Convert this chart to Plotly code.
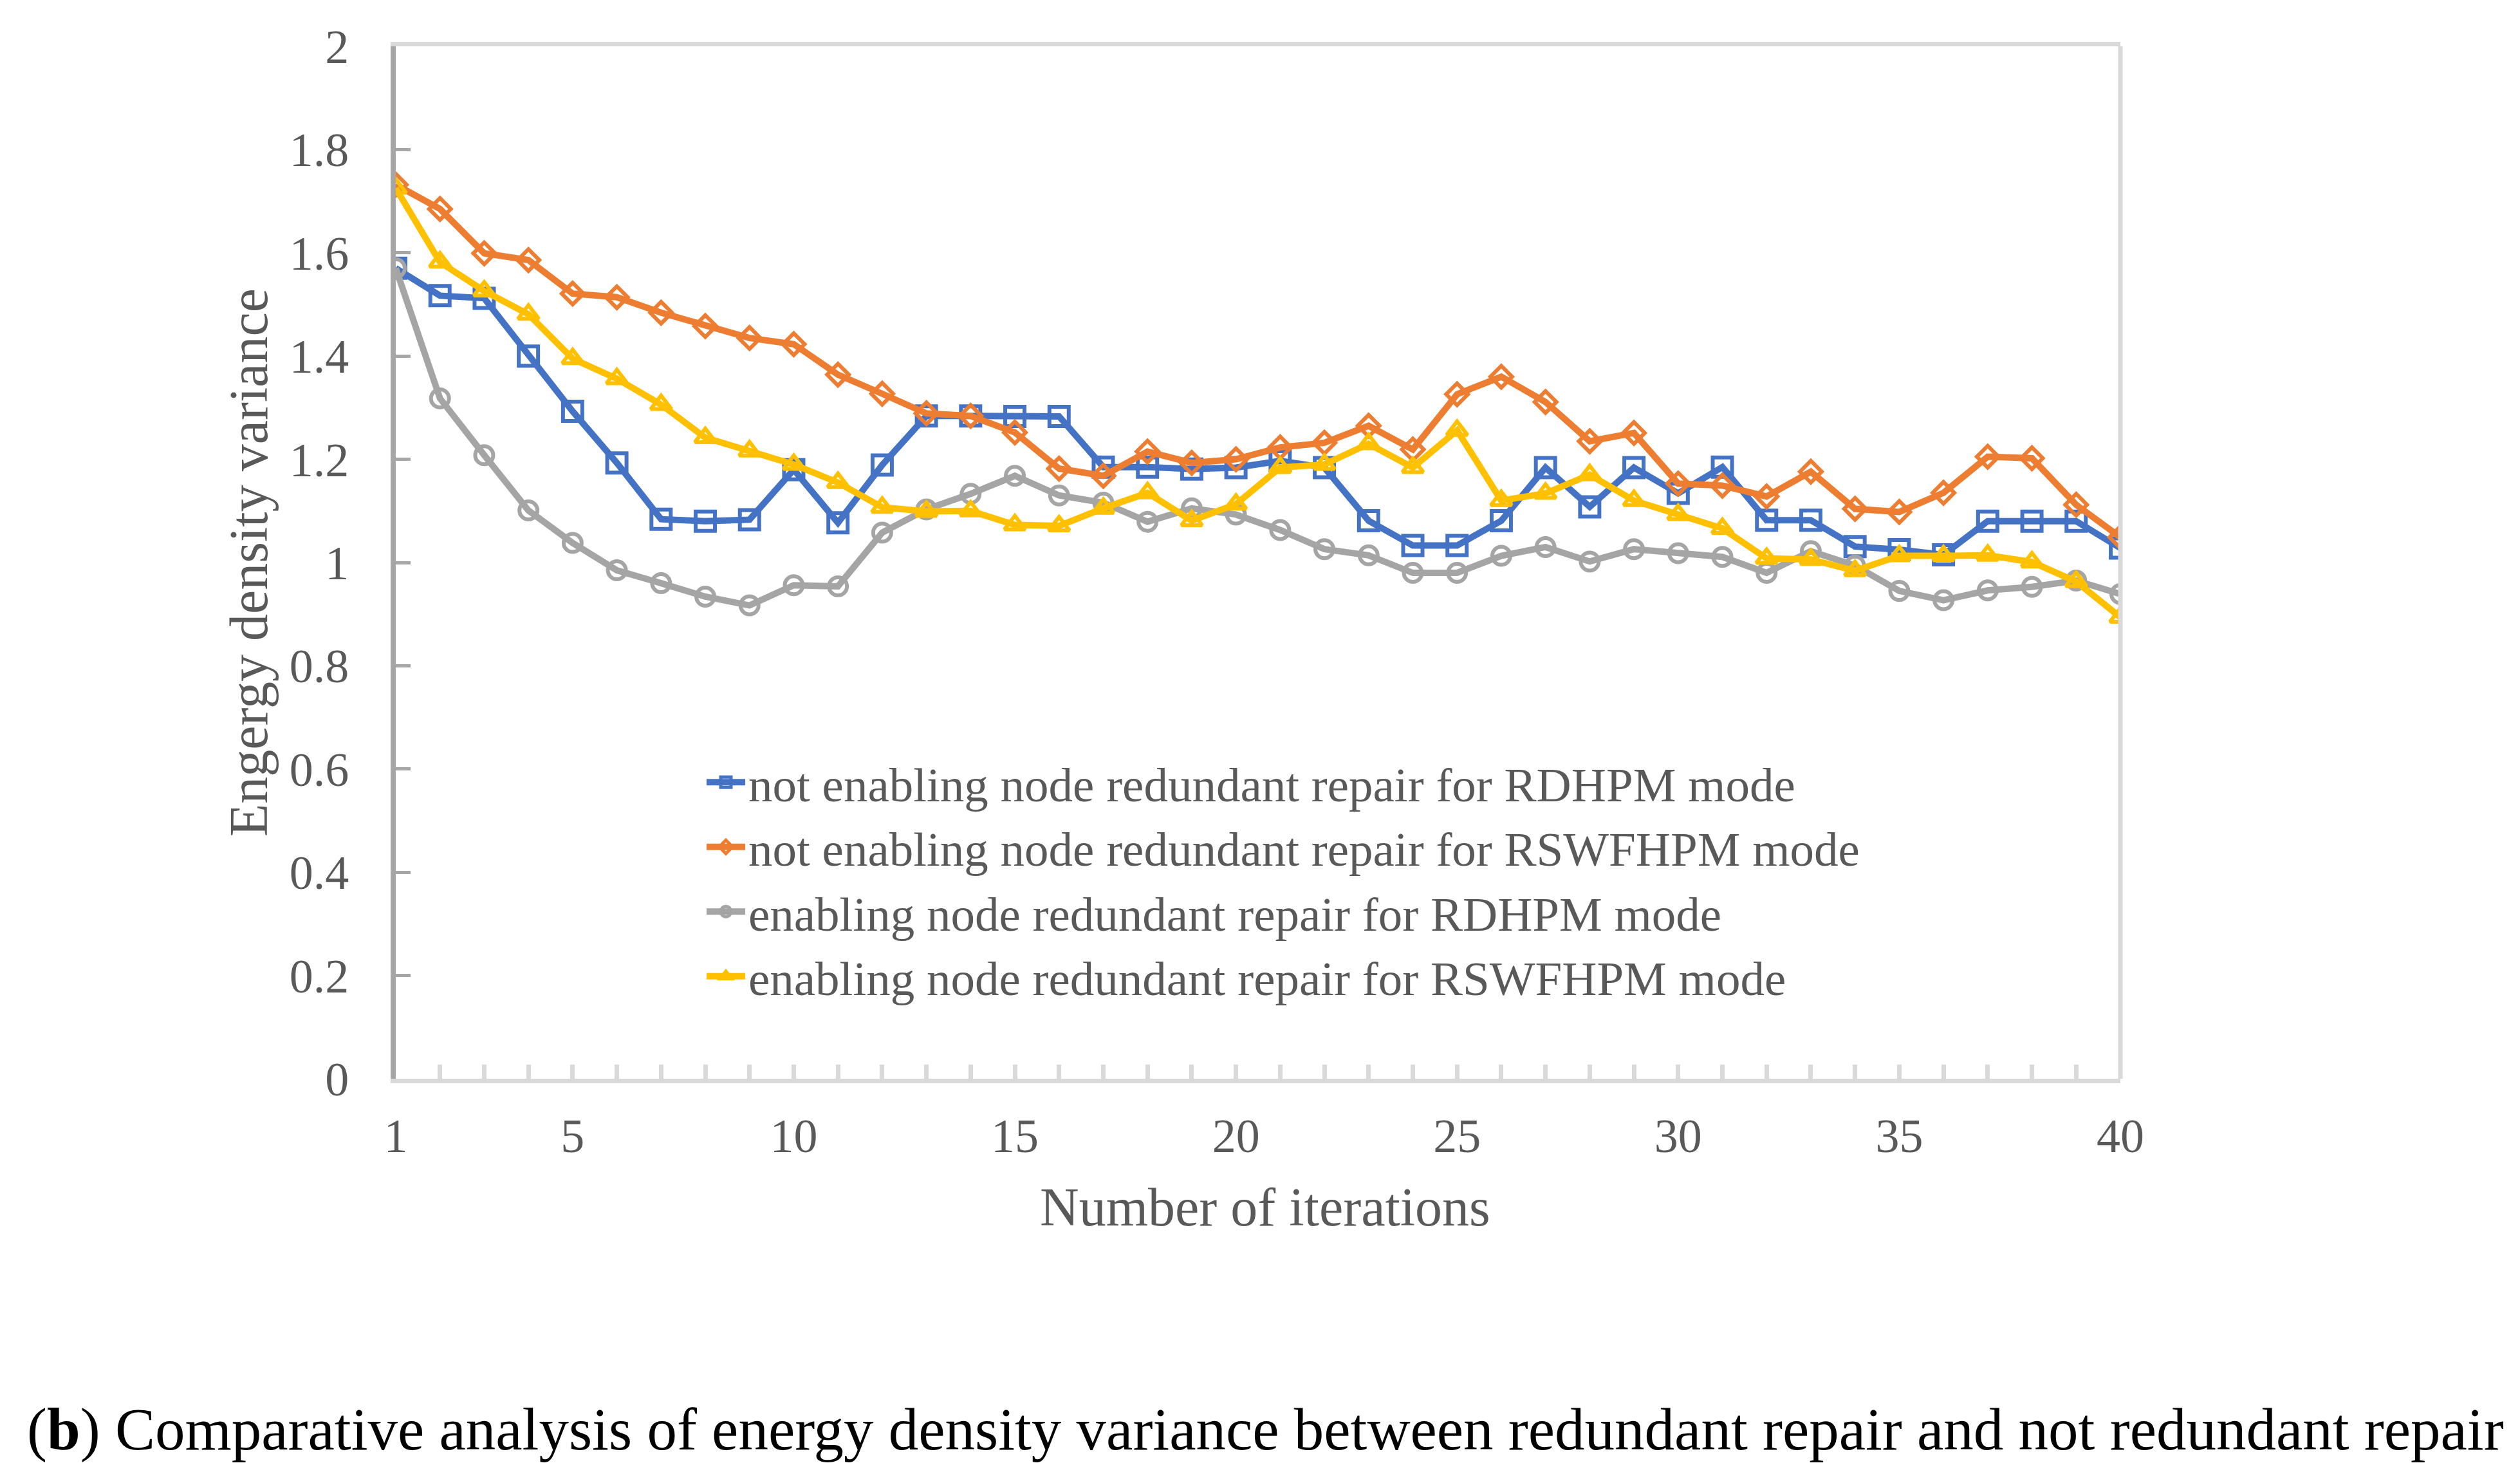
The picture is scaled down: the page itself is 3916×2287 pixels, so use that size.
import plotly.graph_objects as go

iterations = list(range(1, 41))
x_tick_labels = {1: "1", 5: "5", 10: "10", 15: "15", 20: "20", 25: "25", 30: "30", 35: "35", 40: "40"}

names = [
    "not enabling node redundant repair for RDHPM mode",
    "not enabling node redundant repair for RSWFHPM mode",
    "enabling node redundant repair for RDHPM mode",
    "enabling node redundant repair for RSWFHPM mode",
]

blue_not_rdhpm = [1.570, 1.517, 1.512, 1.400, 1.293, 1.193, 1.084, 1.080, 1.083, 1.180,
                  1.077, 1.189, 1.284, 1.284, 1.283, 1.283, 1.185, 1.185, 1.181, 1.184,
                  1.197, 1.184, 1.081, 1.033, 1.033, 1.081, 1.184, 1.108, 1.184, 1.134,
                  1.185, 1.082, 1.082, 1.031, 1.025, 1.015, 1.080, 1.080, 1.080, 1.028]
orange_not_rswfhpm = [1.732, 1.685, 1.599, 1.586, 1.521, 1.514, 1.484, 1.458, 1.435, 1.423,
                      1.364, 1.327, 1.289, 1.284, 1.252, 1.182, 1.168, 1.215, 1.193, 1.200,
                      1.223, 1.232, 1.265, 1.219, 1.326, 1.360, 1.311, 1.235, 1.251, 1.153,
                      1.149, 1.128, 1.176, 1.104, 1.098, 1.135, 1.205, 1.202, 1.112, 1.049]
gray_rdhpm = [1.570, 1.318, 1.208, 1.101, 1.038, 0.985, 0.960, 0.934, 0.917, 0.956,
              0.954, 1.058, 1.103, 1.133, 1.168, 1.130, 1.116, 1.079, 1.105, 1.093,
              1.063, 1.026, 1.014, 0.980, 0.980, 1.013, 1.030, 1.002, 1.026, 1.018,
              1.011, 0.980, 1.022, 0.994, 0.945, 0.927, 0.946, 0.953, 0.965, 0.939]
yellow_rswfhpm = [1.725, 1.582, 1.526, 1.481, 1.395, 1.356, 1.306, 1.242, 1.216, 1.190,
                  1.155, 1.107, 1.099, 1.100, 1.073, 1.071, 1.105, 1.135, 1.081, 1.113,
                  1.184, 1.190, 1.230, 1.184, 1.256, 1.120, 1.134, 1.170, 1.120, 1.093,
                  1.066, 1.008, 1.006, 0.984, 1.013, 1.013, 1.014, 1.001, 0.963, 0.894]

series = [blue_not_rdhpm, orange_not_rswfhpm, gray_rdhpm, yellow_rswfhpm]
colors = ["#4472C4", "#ED7D31", "#A5A5A5", "#FFC000"]
symbols = ["square-open", "diamond-open", "circle-open", "triangle-up-open"]
sizes = [30, 26, 28, 28]

W, H = 3916, 2287
L, R, T, B = 607, 3287, 64, 1668

fig = go.Figure()
for name, vals, c, s, sz in zip(names, series, colors, symbols, sizes):
    fig.add_trace(go.Scatter(
        x=iterations, y=vals, name=name, mode="lines+markers",
        line=dict(color=c, width=10),
        marker=dict(symbol=s, size=sz, color=c, line=dict(width=6, color=c)),
    ))

font_family = "Liberation Serif"
tick_font = dict(family=font_family, size=74, color="#595959")

def px_x(p):
    return (p - L) / (R - L)

def px_y(p):
    return (B - p) / (B - T)

fig.update_layout(
    width=W, height=H,
    margin=dict(l=L, r=W - R, t=T, b=H - B),
    paper_bgcolor="white", plot_bgcolor="white",
    showlegend=True,
    legend=dict(
        x=px_x(1085), y=px_y(1152), xanchor="left", yanchor="top",
        font=dict(family=font_family, size=75, color="#595959"),
        bgcolor="rgba(0,0,0,0)", itemwidth=60, tracegroupgap=0,
    ),
    xaxis=dict(
        range=[1, 40], tickmode="array", tickvals=iterations,
        ticktext=[x_tick_labels.get(i, "") for i in iterations],
        ticks="inside", ticklen=22, tickwidth=7, tickcolor="#D9D9D9",
        showline=True, linecolor="#D9D9D9", linewidth=7, mirror=True,
        showgrid=False, zeroline=False, tickfont=tick_font, ticklabelstandoff=18,
    ),
    yaxis=dict(
        range=[0, 2], dtick=0.2, tick0=0,
        ticks="inside", ticklen=23, tickwidth=5, tickcolor="#A6A6A6",
        showline=True, linecolor="#A6A6A6", linewidth=8, mirror=False,
        showgrid=False, zeroline=False, tickfont=tick_font, ticklabelstandoff=50,
    ),
)

fig.add_shape(type="line", xref="x domain", yref="y domain", x0=1, x1=1, y0=0, y1=1,
              line=dict(color="#D9D9D9", width=7))

fig.add_annotation(text="Number of iterations", xref="paper", yref="paper",
                   x=px_x(1958), y=px_y(1867), xanchor="center", yanchor="middle",
                   showarrow=False, font=dict(family=font_family, size=84, color="#595959"))
fig.add_annotation(text="Engergy density variance", xref="paper", yref="paper",
                   x=px_x(378), y=px_y(866), xanchor="center", yanchor="middle", textangle=-90,
                   showarrow=False, font=dict(family=font_family, size=84, color="#595959"))
fig.add_annotation(text="(<b>b</b>) Comparative analysis of energy density variance between redundant repair and not redundant repair",
                   xref="paper", yref="paper",
                   x=px_x(1958), y=px_y(2212), xanchor="center", yanchor="middle",
                   showarrow=False, font=dict(family=font_family, size=93, color="#000000"))

fig.write_html("out.html")
